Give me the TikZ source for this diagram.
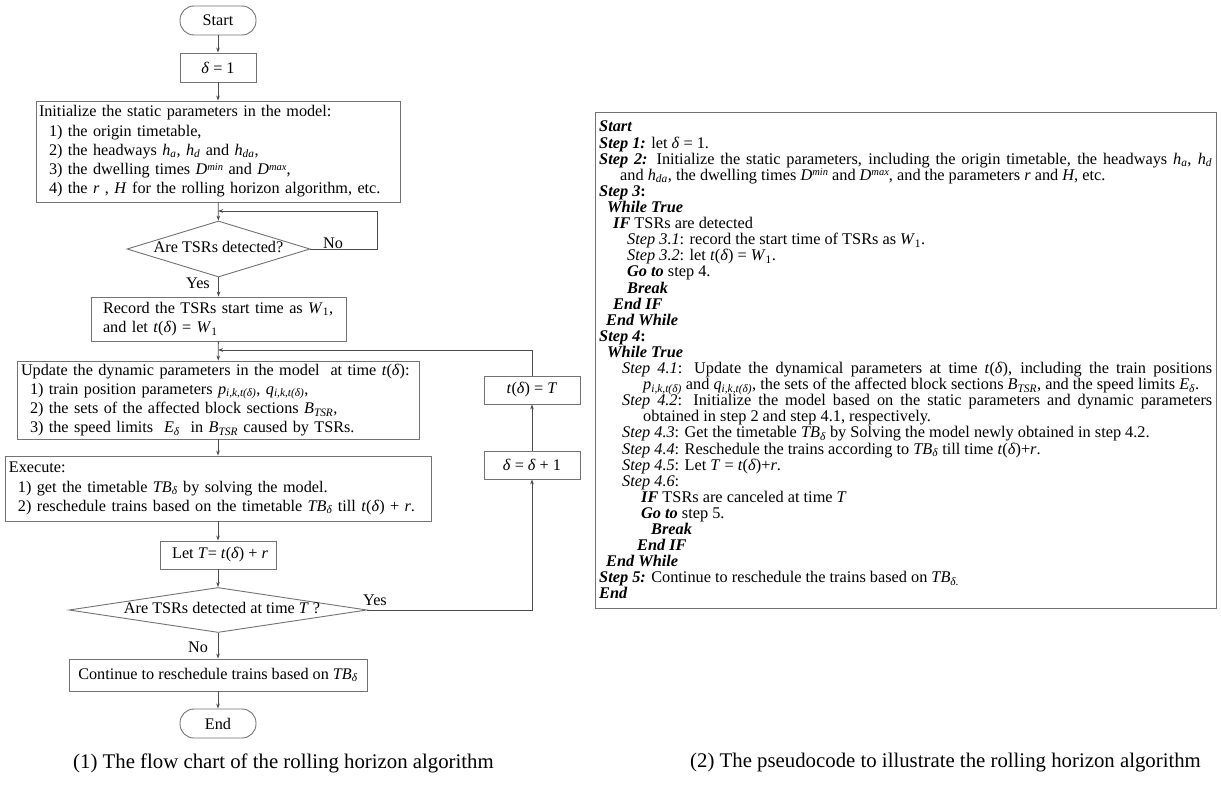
\documentclass[tikz,border=0pt]{standalone}
\usepackage{fontspec}
\setmainfont{Liberation Serif}
\usetikzlibrary{shapes.geometric,arrows.meta}
\newcommand{\mi}[1]{\textit{#1}}
\newcommand{\sbs}[1]{\textsubscript{\textit{#1}}}
\newcommand{\sps}[1]{\raisebox{0.6ex}{\fontsize{10.5}{10.5}\selectfont\textit{#1}}}
\newcommand{\kw}[1]{\textbf{\textit{#1}}}
\newcommand{\oneline}[1]{\mbox{#1}}
\newcommand{\ffc}{\fontsize{16.2}{19.2}\selectfont}
\newcommand{\ffp}{\fontsize{16.3}{16.1}\selectfont}
\newcommand{\ffcap}{\fontsize{20.8}{24}\selectfont}
\newcommand{\pline}[3]{\node[pl] (p#1) at (#2,{132+16.1*(#1-1)}) {#3};}
\begin{document}
\begin{tikzpicture}[x=1pt,y=-1pt,
  box/.style={draw=black!55, line width=0.9pt, rectangle, inner sep=0pt, font=\ffc},
  term/.style={box, rounded corners=14pt, minimum width=76, minimum height=29},
  dia/.style={draw=black!55, line width=0.9pt, shape=diamond, inner sep=0pt, font=\ffc, text height=8pt, text depth=2pt},
  arr/.style={draw=black!70, line width=0.8pt, -{Stealth[length=5pt,width=3.6pt]}},
  lbl/.style={font=\ffc, inner sep=0pt},
  pl/.style={font=\ffp, anchor=base west, inner sep=0pt},
  captxt/.style={font=\ffcap, anchor=west, inner sep=0pt}]
\useasboundingbox[fill=white] (0,0) rectangle (1221,789);

% flow chart
\node[term] (start) at (218,20.5) {Start};
\node[box, minimum width=76, minimum height=29] (d1) at (218,67.5) {\mi{δ} = 1};
\node[box, minimum width=364, minimum height=101, text width=358, inner xsep=3pt, align=left] (init) at (218,151.5) {\oneline{Initialize the static parameters in the model:}\\
\oneline{\hspace*{10pt}1) the origin timetable,}\\
\oneline{\hspace*{10pt}2) the headways \mi{h}\sbs{a}, \mi{h}\sbs{d} and \mi{h}\sbs{da},}\\
\oneline{\hspace*{10pt}3) the dwelling times \mi{D}\sps{min} and \mi{D}\sps{max},}\\
\oneline{\hspace*{10pt}4) the \mi{r} , \mi{H} for the rolling horizon algorithm, etc.}};
\node[dia, minimum width=183, minimum height=56, aspect=3.27] (q1) at (218.5,249) {Are TSRs detected?};
\node[box, minimum width=255, minimum height=44, text width=231, inner xsep=12pt, align=left] (rec) at (218.5,319) {\oneline{Record the TSRs start time as \mi{W}\textsubscript{1},}\\
\oneline{and let \mi{t}(\mi{δ}) = \mi{W}\textsubscript{1}}};
\node[box, minimum width=402, minimum height=78, text width=394, inner xsep=4pt, align=left] (upd) at (218,400) {\oneline{Update the dynamic parameters in the model\ \ at time \mi{t}(\mi{δ}):}\\
\oneline{\hspace*{9pt}1) train position parameters \mi{p}\sbs{i,k,t(δ)}, \mi{q}\sbs{i,k,t(δ)},}\\
\oneline{\hspace*{9pt}2) the sets of the affected block sections \mi{B}\sbs{TSR},}\\
\oneline{\hspace*{9pt}3) the speed limits\ \ \mi{E}\sbs{δ}\ \ in \mi{B}\sbs{TSR} caused by TSRs.}};
\node[box, minimum width=426, minimum height=65, text width=418, inner xsep=4pt, align=left] (exe) at (218,488.5) {\oneline{Execute:}\\
\oneline{\hspace*{9pt}1) get the timetable \mi{TB}\sbs{δ} by solving the model.}\\
\oneline{\hspace*{9pt}2) reschedule trains based on the timetable \mi{TB}\sbs{δ} till \mi{t}(\mi{δ}) + \mi{r}.}};
\node[box, minimum width=116, minimum height=28] (lett) at (218,555) {\ Let \mi{T}= \mi{t}(\mi{δ}) + \mi{r}};
\node[dia, minimum width=298, minimum height=45, aspect=6.6] (q2) at (218,610) {\ \ Are TSRs detected at time \mi{T} ?};
\node[box, minimum width=298, minimum height=32] (cont) at (218,675) {Continue to reschedule trains based on \mi{TB}\sbs{δ}};
\node[term] (end) at (218,723.5) {End};
\node[box, minimum width=96, minimum height=28] (tt) at (532,390) {\mi{t}(\mi{δ}) = \mi{T}};
\node[box, minimum width=96, minimum height=28] (inc) at (532,465) {\mi{δ} = \mi{δ} + 1};

\coordinate (j1) at (218,211);
\coordinate (c1) at (377,211);
\coordinate (j2) at (218,350);

\draw[arr] (start) -- (d1);
\draw[arr] (d1) -- (init);
\draw[arr] (init) -- (q1);
\draw[arr] (q1.east) -| (c1) -- (j1);
\draw[arr] (q1) -- (rec);
\draw[arr] (rec) -- (upd);
\draw[arr] (upd) -- (exe);
\draw[arr] (exe) -- (lett);
\draw[arr] (lett) -- (q2);
\draw[arr] (q2) -- (cont);
\draw[arr] (cont) -- (end);
\draw[arr] (q2.east) -| (inc.south);
\draw[arr] (inc) -- (tt);
\draw[arr] (tt.north) |- (j2);

\node[lbl] (lno1) at (333,243) {No};
\node[lbl] (lyes1) at (198,283) {Yes};
\node[lbl] (lyes2) at (375,600) {Yes};
\node[lbl] (lno2) at (198,647) {No};

\node[captxt] (cap1) at (73,763) {(1) The flow chart of the rolling horizon algorithm};
\node[captxt] (cap2) at (690,763) {(2) The pseudocode to illustrate the rolling horizon algorithm};

% pseudocode
\node[draw=black!55, line width=1pt, minimum width=621, minimum height=495, inner sep=0pt] (pbox) at (905.5,360.5) {};
\pline{1}{599}{\kw{Start}}
\pline{2}{599}{\kw{Step 1:} let \mi{δ} = 1.}
\pline{3}{599}{\makebox[613pt][s]{\kw{Step 2:} Initialize the static parameters, including the origin timetable, the headways \mi{h}\sbs{a}, \mi{h}\sbs{d}}}
\pline{4}{620}{and \mi{h}\sbs{da}, the dwelling times \mi{D}\sps{min} and \mi{D}\sps{max}, and the parameters \mi{r} and \mi{H}, etc.}
\pline{5}{599}{\kw{Step 3}\textbf{:}}
\pline{6}{607}{\kw{While True}}
\pline{7}{613}{\kw{IF} TSRs are detected}
\pline{8}{627}{\mi{Step 3.1}: record the start time of TSRs as \mi{W}\textsubscript{1}.}
\pline{9}{627}{\mi{Step 3.2}: let \mi{t}(\mi{δ}) = \mi{W}\textsubscript{1}.}
\pline{10}{627}{\kw{Go to} step 4.}
\pline{11}{627}{\kw{Break}}
\pline{12}{613}{\kw{End IF}}
\pline{13}{606}{\kw{End While}}
\pline{14}{599}{\kw{Step 4}\textbf{:}}
\pline{15}{607}{\kw{While True}}
\pline{16}{622}{\makebox[590pt][s]{\mi{Step 4.1}: Update the dynamical parameters at time \mi{t}(\mi{δ}), including the train positions}}
\pline{17}{643}{\mi{p}\sbs{i,k,t(δ)} and \mi{q}\sbs{i,k,t(δ)}, the sets of the affected block sections \mi{B}\sbs{TSR}, and the speed limits \mi{E}\sbs{δ}.}
\pline{18}{622}{\makebox[590pt][s]{\mi{Step 4.2}: Initialize the model based on the static parameters and dynamic parameters}}
\pline{19}{643}{obtained in step 2 and step 4.1, respectively.}
\pline{20}{622}{\mi{Step 4.3}: Get the timetable \mi{TB}\sbs{δ} by Solving the model newly obtained in step 4.2.}
\pline{21}{622}{\mi{Step 4.4}: Reschedule the trains according to \mi{TB}\sbs{δ} till time \mi{t}(\mi{δ})+\mi{r}.}
\pline{22}{622}{\mi{Step 4.5}: Let \mi{T} = \mi{t}(\mi{δ})+\mi{r}.}
\pline{23}{622}{\mi{Step 4.6}:}
\pline{24}{641}{\kw{IF} TSRs are canceled at time \mi{T}}
\pline{25}{641}{\kw{Go to} step 5.}
\pline{26}{651}{\kw{Break}}
\pline{27}{637}{\kw{End IF}}
\pline{28}{606}{\kw{End While}}
\pline{29}{599}{\kw{Step 5:} Continue to reschedule the trains based on \mi{TB}\sbs{δ.}}
\pline{30}{599}{\kw{End}}
\end{tikzpicture}
\end{document}
